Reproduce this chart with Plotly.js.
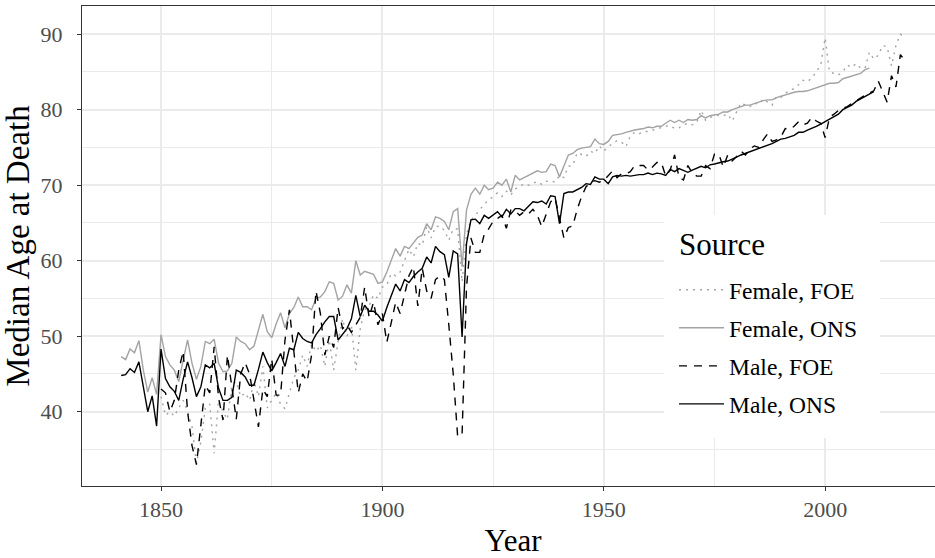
<!DOCTYPE html>
<html>
<head>
<meta charset="utf-8">
<script src="https://cdn.plot.ly/plotly-3.0.1.min.js"></script>
<style>
html,body{margin:0;padding:0;overflow:hidden;background:#fff;}
#chart{width:944px;height:558px;}
</style>
</head>
<body>
<div id="chart"></div>
<script>
// ---- data ----
const seriesNames = ["Female, FOE", "Female, ONS", "Male, FOE", "Male, ONS"];
const legendTitle = "Source";
const xTicks = [1850, 1900, 1950, 2000];
const xMinorTicks = [1825, 1875, 1925, 1975, 2025];
const yTicks = [40, 50, 60, 70, 80, 90];
const yMinorTicks = [35, 45, 55, 65, 75, 85];

const startFemaleFOE = 1850;
const femaleFOE = [
42.0,39.5,40.0,39.4,40.5,41.5,40.0,38.0,33.2,36.0,
40.5,41.0,34.5,41.5,40.0,39.0,43.5,44.0,42.0,42.5,
41.5,44.0,42.0,46.0,40.5,41.5,42.5,41.0,40.4,42.5,
44.5,45.5,47.5,46.0,49.0,48.0,48.8,46.0,49.5,45.5,
49.3,52.3,50.0,51.5,45.5,51.0,53.5,54.0,55.5,55.0,
56.5,56.8,58.3,58.0,58.5,60.0,61.5,60.5,62.3,62.0,
64.5,63.0,64.5,64.6,64.0,62.7,64.2,64.2,57.2,63.5,
65.4,66.0,66.7,67.5,68.0,68.5,69.0,68.5,69.2,68.7,
69.5,69.8,70.2,70.0,70.3,70.5,70.1,70.5,70.6,70.4,
71.3,71.0,72.5,72.6,74.3,74.0,73.8,74.5,74.2,75.2,
74.5,75.1,75.5,75.9,75.7,75.1,76.5,77.0,76.8,77.1,
77.1,77.3,77.5,77.6,77.8,77.9,77.5,77.6,78.0,78.2,
78.0,78.3,79.9,78.6,79.0,79.1,79.3,79.2,79.4,78.5,
79.8,80.9,80.6,80.4,80.9,80.7,81.4,81.0,80.6,81.7,
81.6,82.2,82.5,82.8,83.3,83.9,83.7,84.2,85.0,85.9,
89.5,85.0,84.8,84.6,85.0,85.9,85.6,86.1,85.5,85.5,
87.6,86.7,87.2,88.5,88.3,85.8,88.5,90.0,89.5
];

const startFemaleONS = 1841;
const femaleONS = [
47.3,46.9,48.3,47.8,49.4,45.5,42.6,44.5,42.3,
50.2,47.3,46.2,45.5,44.0,46.8,49.5,46.4,44.3,46.0,
49.3,49.0,49.6,46.4,45.3,45.4,46.4,49.9,49.3,49.0,
48.2,48.7,51.0,52.9,50.6,49.8,51.6,53.1,51.1,53.0,
53.8,55.2,53.9,53.9,53.5,55.0,55.2,55.9,57.2,57.0,
54.8,55.3,56.8,55.7,60.0,58.1,58.6,58.4,58.2,57.0,
57.2,58.5,60.1,61.6,60.6,61.9,61.6,62.3,63.1,63.4,
64.9,64.1,65.8,65.6,65.2,64.1,66.5,66.9,59.2,66.7,
68.8,69.6,68.8,70.0,69.4,69.6,70.4,70.0,70.8,69.1,
71.3,70.7,71.0,71.3,71.7,71.9,71.7,71.8,72.8,72.6,
71.1,72.5,74.0,74.2,74.7,74.9,75.0,75.1,76.1,75.5,
75.4,75.8,76.6,76.7,76.8,77.0,77.2,77.3,77.4,77.5,
77.7,77.6,77.8,77.8,78.2,78.6,78.3,78.6,78.3,78.7,
78.6,78.7,79.2,78.9,79.2,79.3,79.4,79.7,79.7,80.0,
80.2,80.5,80.6,80.6,80.8,81.1,81.2,81.3,81.3,81.6,
81.8,81.9,82.2,82.3,82.4,82.4,82.5,82.7,83.0,83.1,
83.4,83.5,83.5,83.6,84.1,84.3,84.5,84.6,84.8,85.3,
85.5
];

const startMaleFOE = 1850;
const maleFOE = [
43.0,42.5,40.0,41.5,45.5,48.0,40.0,35.5,33.0,38.5,
43.5,42.5,48.6,41.8,38.9,47.5,43.0,39.0,45.0,46.5,
45.0,41.5,38.0,43.0,42.0,47.0,42.2,42.2,49.5,53.5,
47.5,42.5,45.0,44.0,47.5,56.0,53.0,47.5,50.0,48.5,
53.8,51.0,51.5,50.5,51.5,52.5,56.5,52.5,54.5,51.5,
53.0,49.2,51.8,54.5,53.0,55.5,58.0,59.2,54.0,59.0,
56.0,55.0,57.5,58.0,57.5,51.5,45.0,36.7,37.0,56.5,
63.0,61.1,61.1,63.5,64.2,65.2,65.6,66.0,64.3,66.7,
66.6,66.0,66.5,66.2,66.8,66.0,64.5,66.3,67.8,68.3,
65.5,63.0,64.4,64.6,66.8,68.5,69.8,70.3,70.6,70.4,
70.6,71.3,71.9,71.0,71.5,71.5,71.8,72.6,72.6,72.6,
72.0,72.4,73.0,73.0,71.2,72.0,74.0,71.0,70.7,72.6,
71.6,71.2,71.2,72.6,72.2,74.1,74.1,72.4,74.0,73.2,
73.8,74.5,74.0,74.8,75.2,75.0,76.0,76.8,75.8,76.0,
76.4,77.5,77.4,77.8,78.4,78.0,78.2,79.0,78.5,78.2,
76.3,79.0,79.4,79.9,80.2,80.4,80.8,81.2,81.5,81.9,
82.2,82.5,83.8,82.5,81.0,84.5,83.0,87.3,86.5
];

const startMaleONS = 1841;
const maleONS = [
44.8,44.9,45.7,45.2,46.6,43.1,40.0,42.1,38.1,
48.3,44.4,43.3,42.7,41.5,44.3,46.6,44.5,42.0,43.3,
46.2,45.8,46.4,43.1,41.5,41.5,41.9,45.5,45.2,44.6,
43.5,43.5,45.6,47.9,46.5,45.4,46.5,47.7,46.0,48.4,
48.2,50.5,49.7,49.3,49.1,50.2,51.0,51.9,52.6,52.6,
49.5,50.2,51.0,52.3,55.4,52.6,54.1,53.3,53.3,52.8,
52.0,53.8,55.4,56.9,56.0,57.5,57.1,57.9,58.5,59.0,
60.5,59.7,61.9,61.2,60.8,57.8,61.3,60.9,49.9,62.3,
65.4,65.5,64.9,66.0,65.6,66.0,66.5,65.8,66.8,66.2,
66.9,66.9,66.6,67.2,67.8,67.7,67.9,67.5,68.6,68.5,
64.9,68.9,69.1,69.1,69.4,69.7,70.2,70.1,71.1,70.8,
70.8,70.2,71.1,71.3,71.2,71.3,71.2,71.3,71.4,71.4,
71.6,71.4,71.6,71.5,71.3,72.1,71.8,72.2,72.0,71.7,
72.0,72.2,72.5,72.3,72.7,72.8,73.0,73.1,73.2,73.4,
73.7,74.0,74.2,74.4,74.7,74.9,75.0,75.2,75.5,75.8,
76.1,76.2,76.4,76.6,77.0,77.0,77.3,77.5,77.8,78.1,
78.4,78.7,79.1,79.4,80.0,80.3,80.6,81.1,81.4,81.7,
82.1,82.4
];

function yearsFrom(start, arr){ return arr.map((_, i) => start + i); }

const FONT = "'Liberation Serif', 'DejaVu Serif', serif";
const GREY = "#A3A3A3";
const GRID = "#EBEBEB";

const traces = [
  {name: seriesNames[0], x: yearsFrom(startFemaleFOE, femaleFOE), y: femaleFOE,
   line: {color: GREY, width: 1.4, dash: "2px,5px"}},
  {name: seriesNames[1], x: yearsFrom(startFemaleONS, femaleONS), y: femaleONS,
   line: {color: GREY, width: 1.4, dash: "solid"}},
  {name: seriesNames[2], x: yearsFrom(startMaleFOE, maleFOE), y: maleFOE,
   line: {color: "#000000", width: 1.4, dash: "8px,7px"}},
  {name: seriesNames[3], x: yearsFrom(startMaleONS, maleONS), y: maleONS,
   line: {color: "#000000", width: 1.4, dash: "solid"}}
].map((t, i) => Object.assign(t, {type: "scatter", mode: "lines", legendgroup: "g" + i, hoverinfo: "skip"}));

const axisCommon = {
  showline: true, mirror: true, linecolor: "#333333", linewidth: 1,
  ticks: "outside", ticklen: 4, tickwidth: 1, tickcolor: "#333333",
  showgrid: true, gridcolor: GRID, gridwidth: 2,
  zeroline: false,
  tickfont: {family: FONT, size: 22, color: "#4D4D4D"}
};

const layout = {
  width: 944, height: 558,
  margin: {l: 82, r: 0, t: 6, b: 72},
  paper_bgcolor: "#ffffff", plot_bgcolor: "#ffffff",
  showlegend: true,
  xaxis: Object.assign({}, axisCommon, {
    range: [1832.15, 2026.85], tickmode: "array", tickvals: xTicks,
    ticklabelstandoff: 0,
    minor: {tickmode: "array", tickvals: xMinorTicks, showgrid: true, gridcolor: GRID, gridwidth: 1, ticks: ""},
    title: {text: "Year", font: {family: FONT, size: 31, color: "#000"}, standoff: 9}
  }),
  yaxis: Object.assign({}, axisCommon, {
    range: [30.16, 93.73], tickmode: "array", tickvals: yTicks,
    ticklabelstandoff: 10,
    minor: {tickmode: "array", tickvals: yMinorTicks, showgrid: true, gridcolor: GRID, gridwidth: 1, ticks: ""},
    title: {text: "Median Age at Death", font: {family: FONT, size: 33, color: "#000"}, standoff: 3}
  }),
  shapes: [
    {type: "rect", xref: "paper", yref: "paper", x0: 0.6752, x1: 0.9255, y0: 0.1, y1: 0.5646,
     fillcolor: "#ffffff", line: {width: 0}, layer: "above"}
  ],
  annotations: [
    {text: legendTitle, xref: "paper", yref: "paper", x: 0.6903, y: 0.5021,
     xanchor: "left", yanchor: "middle", showarrow: false,
     font: {family: FONT, size: 31, color: "#000"}}
  ],
  legend: {
    x: 0.6752, y: 0.4542, xanchor: "left", yanchor: "top",
    bgcolor: "rgba(0,0,0,0)", borderwidth: 0,
    font: {family: FONT, size: 23.5, color: "#000"},
    tracegroupgap: 4.5, itemwidth: 45, indentation: 10
  }
};

Plotly.newPlot("chart", traces, layout, {displayModeBar: false, staticPlot: true});
</script>
</body>
</html>
